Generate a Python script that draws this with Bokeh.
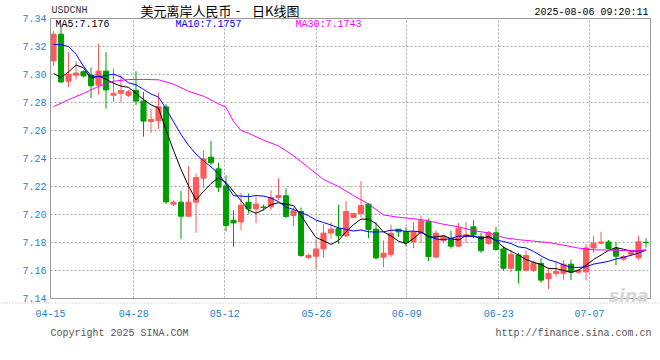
import numpy as np
import pandas as pd
from bokeh.plotting import figure
from bokeh.models import (ColumnDataSource, FixedTicker, Label, PrintfTickFormatter,
                          Range1d, Span)
from bokeh.embed import file_html
from bokeh.resources import INLINE

# ---------------- data ----------------
opens = [7.3097, 7.3288, 7.2952, 7.2995, 7.3020, 7.2995, 7.2924, 7.3024, 7.2852, 7.2866,
         7.2852, 7.2886, 7.2810, 7.2664, 7.2669, 7.2769, 7.2074, 7.2088, 7.1988, 7.2088,
         7.2259, 7.2409, 7.2326, 7.2203, 7.1959, 7.1947, 7.2088, 7.2040, 7.2054, 7.2054,
         7.2121, 7.2134, 7.1993, 7.2021, 7.1693, 7.1702, 7.1754, 7.1867, 7.1899, 7.1848,
         7.1979, 7.2007, 7.2074, 7.1895, 7.1695, 7.1714, 7.1895, 7.1879, 7.1804, 7.1866,
         7.1948, 7.1696, 7.1813, 7.1827, 7.1774, 7.1842, 7.1912, 7.1841, 7.1793, 7.1869,
         7.1754, 7.1616, 7.1711, 7.1602, 7.1602, 7.1651, 7.1541, 7.1579, 7.1580, 7.1645,
         7.1588, 7.1590, 7.1761, 7.1795, 7.1804, 7.1759, 7.1681, 7.1716, 7.1691, 7.1802]
highs = [7.3310, 7.3350, 7.3160, 7.3095, 7.3030, 7.3050, 7.3220, 7.3160, 7.3043, 7.2995,
         7.2890, 7.3024, 7.2876, 7.2755, 7.2870, 7.2788, 7.2100, 7.2169, 7.2345, 7.2293,
         7.2459, 7.2526, 7.2369, 7.2280, 7.2031, 7.2155, 7.2150, 7.2128, 7.2071, 7.2174,
         7.2257, 7.2188, 7.2050, 7.2050, 7.1720, 7.1825, 7.1930, 7.1945, 7.2069, 7.2097,
         7.2012, 7.2237, 7.2080, 7.1945, 7.1814, 7.1927, 7.1897, 7.1910, 7.1945, 7.1993,
         7.1971, 7.1887, 7.1856, 7.1884, 7.1940, 7.1948, 7.1959, 7.1869, 7.1883, 7.1912,
         7.1773, 7.1745, 7.1724, 7.1745, 7.1670, 7.1688, 7.1620, 7.1669, 7.1674, 7.1679,
         7.1612, 7.1790, 7.1847, 7.1876, 7.1818, 7.1802, 7.1712, 7.1740, 7.1847, 7.1831]
lows = [7.3060, 7.2940, 7.2910, 7.2966, 7.2980, 7.2830, 7.2857, 7.2757, 7.2804, 7.2800,
        7.2840, 7.2780, 7.2556, 7.2583, 7.2610, 7.2074, 7.2060, 7.1826, 7.1983, 7.1869,
        7.2190, 7.2355, 7.2159, 7.1880, 7.1769, 7.1887, 7.2007, 7.1938, 7.2029, 7.2031,
        7.2102, 7.1976, 7.1916, 7.1697, 7.1680, 7.1610, 7.1693, 7.1826, 7.1790, 7.1836,
        7.1975, 7.1979, 7.1831, 7.1678, 7.1624, 7.1697, 7.1840, 7.1770, 7.1759, 7.1793,
        7.1667, 7.1688, 7.1800, 7.1756, 7.1769, 7.1795, 7.1831, 7.1726, 7.1784, 7.1741,
        7.1599, 7.1588, 7.1507, 7.1593, 7.1590, 7.1512, 7.1467, 7.1555, 7.1536, 7.1531,
        7.1578, 7.1528, 7.1728, 7.1786, 7.1750, 7.1636, 7.1670, 7.1700, 7.1674, 7.1764]
closes = [7.3288, 7.2947, 7.3000, 7.3010, 7.2990, 7.2919, 7.3024, 7.2890, 7.2866, 7.2886,
          7.2876, 7.2810, 7.2667, 7.2679, 7.2769, 7.2090, 7.2088, 7.1988, 7.2088, 7.2264,
          7.2397, 7.2369, 7.2195, 7.1921, 7.1940, 7.2066, 7.2040, 7.2074, 7.2050, 7.2121,
          7.2136, 7.1985, 7.2026, 7.1707, 7.1707, 7.1754, 7.1867, 7.1895, 7.1848, 7.2021,
          7.2007, 7.2064, 7.1893, 7.1690, 7.1724, 7.1866, 7.1876, 7.1800, 7.1876, 7.1955,
          7.1700, 7.1866, 7.1846, 7.1774, 7.1902, 7.1856, 7.1855, 7.1741, 7.1869, 7.1750,
          7.1616, 7.1716, 7.1602, 7.1707, 7.1655, 7.1531, 7.1579, 7.1593, 7.1645, 7.1588,
          7.1602, 7.1761, 7.1795, 7.1804, 7.1757, 7.1702, 7.1700, 7.1731, 7.1805, 7.1800]
# closes of the sessions just before the window (only used for MA5 / MA10 warm-up)
prior_closes = [7.2950, 7.3140, 7.3560, 7.3840, 7.3615, 7.3085, 7.2805, 7.2760, 7.3095]
# MA30 at these bars
ma30_bar = [0, 2, 4, 6, 8, 10, 12, 14, 16, 18, 20, 22, 23, 24, 25, 26, 28, 30, 32, 34,
            36, 38, 40, 42, 44, 46, 48, 50, 52, 54, 56, 58, 60, 62, 64, 66, 68, 70, 72, 74,
            76, 78, 79]
ma30_val = [7.2770, 7.2820, 7.2865, 7.2915, 7.2952, 7.2964, 7.2965, 7.2962, 7.2931, 7.2880,
            7.2845, 7.2790, 7.2765, 7.2665, 7.2600, 7.2580, 7.2531, 7.2490, 7.2420, 7.2335,
            7.2250, 7.2200, 7.2135, 7.2075, 7.1997, 7.1980, 7.1970, 7.1955, 7.1930, 7.1912,
            7.1885, 7.1868, 7.1835, 7.1820, 7.1810, 7.1800, 7.1780, 7.1760, 7.1748, 7.1746,
            7.1742, 7.1740, 7.1743]
date_labels = ["04-15", "04-28", "05-12", "05-26", "06-09", "06-23", "07-07"]
y_ticks = [7.14, 7.16, 7.18, 7.20, 7.22, 7.24, 7.26, 7.28, 7.30, 7.32, 7.34]
ma_legend = ["MA5:7.176", "MA10:7.1757", "MA30:7.1743"]
symbol = "USDCNH"
title_parts = ["美元离岸人民币", "-", "日K线图"]
timestamp = "2025-08-06 09:20:11"
footer_left = "Copyright 2025 SINA.COM"
footer_right = "http://finance.sina.com.cn"

# ---------------- derived ----------------
n = len(closes)
idx = np.arange(n)
all_close = pd.Series(prior_closes + closes)
ma5 = all_close.rolling(5).mean().to_numpy()[-n:]
ma10 = all_close.rolling(10).mean().to_numpy()[-n:]

RED = "#ff5a5a"
GREEN = "#009e00"
colors = [RED if c >= o else GREEN for o, c in zip(opens, closes)]
src = ColumnDataSource(dict(
    x=idx, top=np.maximum(opens, closes), bottom=np.minimum(opens, closes),
    high=highs, low=lows, color=colors))

# ---------------- layout ----------------
W, H = 660, 360
BOX_L, BOX_R, BOX_T, BOX_B = 50, 650, 18, 298      # chart box in page pixels
x_lo, x_hi = -0.4, n - 0.4                          # bar-axis extent of the box
y_lo, y_hi = y_ticks[0], y_ticks[-1]
px_x = (BOX_R - BOX_L) / (x_hi - x_lo)
px_y = (BOX_B - BOX_T) / (y_hi - y_lo)
# frame = whole canvas, so that header / footer texts are not clipped
x_range = Range1d(x_lo - BOX_L / px_x, x_hi + (W - BOX_R) / px_x)
y_range = Range1d(y_lo - (H - BOX_B) / px_y, y_hi + BOX_T / px_y)

# date grid positions on the bar axis
date_pos = [x_lo, 10.71, 22.84, 35.07, 47.11, 59.37, 71.47]

p = figure(width=W, height=H, x_range=x_range, y_range=y_range,
           output_backend="svg", toolbar_location=None,
           min_border=0, min_border_left=0, min_border_right=0,
           min_border_top=0, min_border_bottom=0)
p.background_fill_color = "white"
p.border_fill_color = "white"
p.outline_line_color = None

AX_BLUE = "#1f82c9"
MONO = "Liberation Mono"
for ax in p.axis:
    ax.axis_line_color = None
    ax.major_tick_line_color = None
    ax.minor_tick_line_color = None
    ax.major_tick_out = 0
    ax.major_tick_in = 0
    ax.major_label_text_color = AX_BLUE
    ax.major_label_text_font = MONO
    ax.major_label_text_font_size = "10px"

p.yaxis.fixed_location = x_lo
p.yaxis.ticker = FixedTicker(ticks=y_ticks)
p.yaxis.formatter = PrintfTickFormatter(format="%.2f")
p.yaxis.major_label_standoff = 4
p.xaxis.fixed_location = y_lo
p.xaxis.ticker = FixedTicker(ticks=date_pos)
p.xaxis.major_label_overrides = {pos: lab for pos, lab in zip(date_pos, date_labels)}
p.xaxis.major_label_standoff = 11

p.xgrid.ticker = FixedTicker(ticks=date_pos[1:])
p.xgrid.cross_bounds = (y_lo, y_hi)
p.ygrid.ticker = FixedTicker(ticks=y_ticks[1:-1])
p.ygrid.cross_bounds = (x_lo, x_hi)
for g in (p.xgrid, p.ygrid):
    g.grid_line_color = "#a8a8a8"
    g.grid_line_dash = "2 2"
    g.grid_line_width = 1

# dotted separator under the chart box
p.add_layout(Span(location=y_lo - 4.5 / px_y, dimension="width", line_color="#b8b8b8",
                  line_dash="1 2", line_width=1))

# candles
p.segment(x0="x", y0="low", x1="x", y1="high", line_color="color", line_width=1, source=src)
p.vbar(x="x", width=0.68, top="top", bottom="bottom", fill_color="color",
       line_color="color", line_width=1, source=src)

# moving averages
p.line(idx, ma5, line_color="black", line_width=1)
p.line(idx, ma10, line_color="#0000ff", line_width=1)
p.line(ma30_bar, ma30_val, line_color="#ff00ff", line_width=1)

# chart box outline
p.quad(left=[x_lo], right=[x_hi], bottom=[y_lo], top=[y_hi], fill_color=None,
       line_color="#9a9a9a", line_width=1)


def lab(text, x, y, color="black", font=MONO, size="10px", align="left",
        style="normal", baseline="middle"):
    # x, y in page pixels from the top-left corner
    p.add_layout(Label(x=x, y=H - y, x_units="screen", y_units="screen", text=text,
                       text_font=font, text_font_size=size, text_color=color,
                       text_align=align, text_baseline=baseline, text_font_style=style))


lab(symbol, 51, 10, color="#333333")
lab(title_parts[0], 140, 9.5, font="Noto Sans CJK SC", size="13px")
lab(title_parts[1], 237.5, 9.5, font="Noto Sans CJK SC", size="13px", align="center")
lab(title_parts[2], 251.5, 9.5, font="Noto Sans CJK SC", size="13px")
lab(timestamp, 648, 11.5, align="right")
lab(ma_legend[0], 55, 23.5, color="black")
lab(ma_legend[1], 175, 23.5, color="#0000ff")
lab(ma_legend[2], 295, 23.5, color="#ff00ff")
lab(footer_left, 50, 332.5, color="#555555")
lab(footer_right, 651, 332.5, color="#555555", align="right")
lab("sina", 648, 295, color="#d6d6d6", font="DejaVu Sans", size="17px",
    align="right", style="bold italic", baseline="alphabetic")

open("out.html", "w").write(file_html(p, INLINE))
